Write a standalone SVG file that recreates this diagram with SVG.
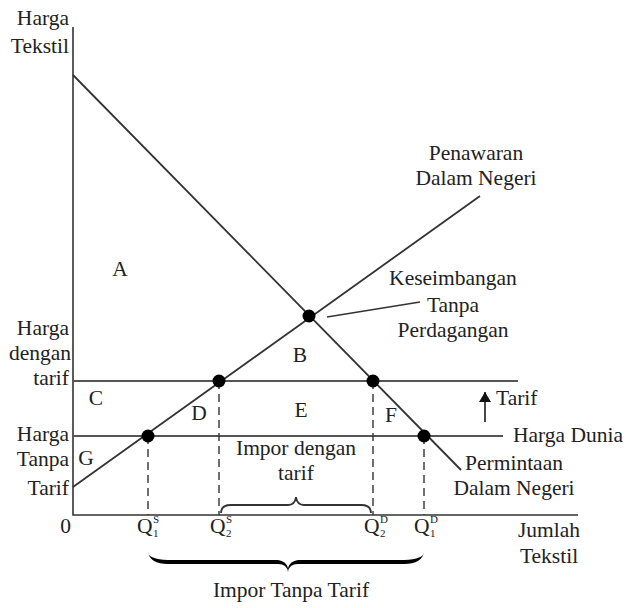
<svg xmlns="http://www.w3.org/2000/svg" width="631" height="608" viewBox="0 0 631 608">
<style>
text{font-family:"Liberation Serif","Times New Roman",serif;font-size:21.5px;fill:#222}
.m{text-anchor:middle}
.e{text-anchor:end}
.sm{font-size:11px}
.ax{stroke:#333;stroke-width:1.6;fill:none}
.ln{stroke:#333;stroke-width:1.8;fill:none}
.hl{stroke:#555;stroke-width:2;fill:none}
.ds{stroke:#333;stroke-width:1.4;stroke-dasharray:8 5;fill:none}
.dot{fill:#000}
</style>
<defs>
<marker id="ah" markerWidth="12" markerHeight="12" refX="10" refY="6" orient="auto" markerUnits="userSpaceOnUse">
<path d="M0,0 L10,6 L0,12 Z" fill="#111"/>
</marker>
</defs>
<g id="connectors">
<path class="ax" d="M73,27 V515 H578"/>
<path id="demand" class="ln" d="M73,75 L461,470"/>
<path id="supply" class="ln" d="M73,487 L480,196"/>
<path id="tariff-price" class="hl" d="M73,381 H518"/>
<path id="world-price" class="hl" d="M73,436 H503"/>
<path class="ds" d="M148,436 V515 M219,381 V515 M373,381 V515 M424,436 V515"/>
<path class="ln" style="stroke-width:1.4" d="M327,317 L420,302"/>
<path class="ln" d="M485,422 V392" marker-end="url(#ah)"/>
<path class="ln" style="stroke-width:1.8" d="M221,513 Q221,505 231,505 H288 Q295,505 296,497 Q297,505 304,505 H361 Q371,505 371,513"/>
<path fill="#000" d="M148,552 Q150,564 168,564 H278 Q287,564 288,572 Q289,564 298,564 H404 Q422,564 424,552 Q424,559 404,560 H298 Q290,561 288,568 Q286,561 278,560 H168 Q148,559 148,552 Z"/>
</g>
<g id="dots">
<circle class="dot" cx="309" cy="316" r="6.5"/>
<circle class="dot" cx="219" cy="381" r="6.5"/>
<circle class="dot" cx="373" cy="381" r="6.5"/>
<circle class="dot" cx="148" cy="436" r="6.5"/>
<circle class="dot" cx="424" cy="436" r="6.5"/>
</g>
<g id="axis-labels">
<text class="e" x="69" y="25">Harga</text>
<text class="e" x="69" y="53">Tekstil</text>
<text class="e" x="69" y="335">Harga</text>
<text class="e" x="71" y="360">dengan</text>
<text class="e" x="69" y="385">tarif</text>
<text class="e" x="69" y="441">Harga</text>
<text class="e" x="69" y="466">Tanpa</text>
<text class="e" x="69" y="495">Tarif</text>
<text class="e" x="71" y="533">0</text>
<text class="m" x="549" y="537">Jumlah</text>
<text class="m" x="549" y="563">Tekstil</text>
</g>
<g id="areas">
<text class="m" x="120" y="276">A</text>
<text class="m" x="300" y="362">B</text>
<text class="m" x="96" y="405">C</text>
<text class="m" x="199" y="420">D</text>
<text class="m" x="301" y="417">E</text>
<text class="m" x="391" y="422">F</text>
<text class="m" x="86" y="465">G</text>
</g>
<g id="curve-labels">
<text class="m" x="476" y="160">Penawaran</text>
<text class="m" x="476" y="185">Dalam Negeri</text>
<text class="m" x="453" y="285">Keseimbangan</text>
<text class="m" x="453" y="312">Tanpa</text>
<text class="m" x="453" y="337">Perdagangan</text>
<text x="496" y="405">Tarif</text>
<text x="513" y="442">Harga Dunia</text>
<text class="m" x="514" y="470">Permintaan</text>
<text class="m" x="514" y="495">Dalam Negeri</text>
<text class="m" x="296" y="455">Impor dengan</text>
<text class="m" x="296" y="480">tarif</text>
<text class="m" x="291" y="597">Impor Tanpa Tarif</text>
</g>
<g id="quantities">
<text x="137" y="533">Q</text><text class="sm" x="153" y="523">S</text><text class="sm" x="153" y="537">1</text>
<text x="210" y="533">Q</text><text class="sm" x="226" y="523">S</text><text class="sm" x="226" y="537">2</text>
<text x="364" y="533">Q</text><text class="sm" x="380" y="523">D</text><text class="sm" x="380" y="537">2</text>
<text x="414" y="533">Q</text><text class="sm" x="430" y="523">D</text><text class="sm" x="430" y="537">1</text>
</g>
</svg>
